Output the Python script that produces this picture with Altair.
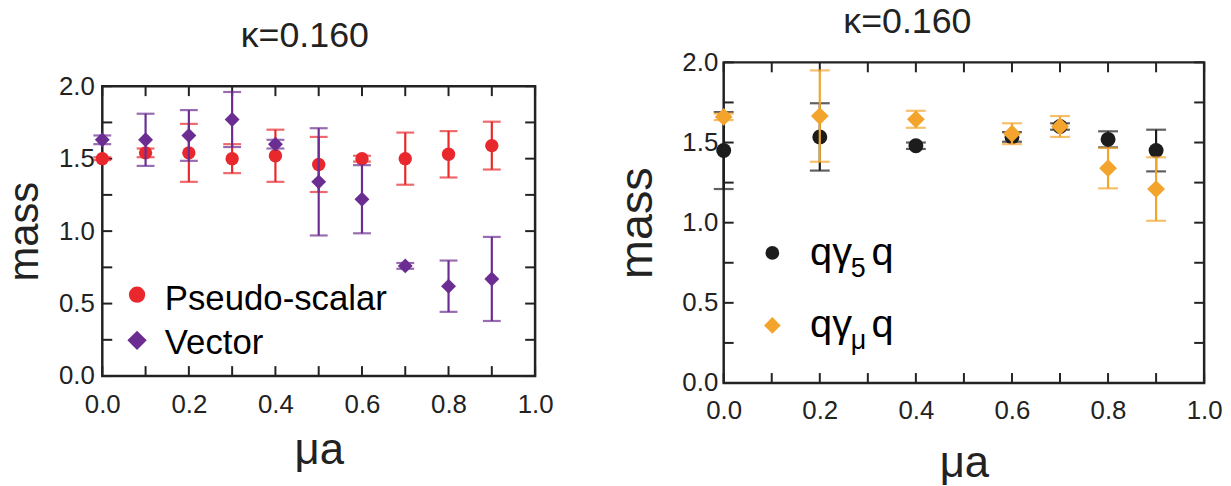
import altair as alt
import pandas as pd

# ---------------- data ----------------
mu_left = [0.0, 0.1, 0.2, 0.3, 0.4, 0.5, 0.6, 0.7, 0.8, 0.9]
ps_mass = [1.50, 1.54, 1.54, 1.50, 1.52, 1.46, 1.50, 1.50, 1.53, 1.59]
ps_err = [0.01, 0.03, 0.20, 0.10, 0.18, 0.19, 0.02, 0.18, 0.16, 0.165]
vec_mass = [1.63, 1.63, 1.66, 1.77, 1.60, 1.34, 1.22, 0.76, 0.62, 0.67]
vec_err = [0.03, 0.18, 0.175, 0.19, 0.03, 0.37, 0.235, 0.02, 0.177, 0.29]

mu_right = [0.0, 0.2, 0.4, 0.6, 0.7, 0.8, 0.9]
g5_mass = [1.45, 1.535, 1.48, 1.535, 1.60, 1.52, 1.45]
g5_err = [0.24, 0.21, 0.02, 0.03, 0.02, 0.05, 0.13]
gmu_mass = [1.66, 1.665, 1.645, 1.555, 1.60, 1.34, 1.21]
gmu_err = [0.02, 0.285, 0.053, 0.065, 0.065, 0.126, 0.198]

x_ticks = [0.0, 0.1, 0.2, 0.3, 0.4, 0.5, 0.6, 0.7, 0.8, 0.9, 1.0]
y_ticks = [0.0, 0.25, 0.5, 0.75, 1.0, 1.25, 1.5, 1.75, 2.0]
x_labels = [0.0, 0.2, 0.4, 0.6, 0.8, 1.0]
y_labels = [0.0, 0.5, 1.0, 1.5, 2.0]
x_domain = [0.0, 1.0]
y_domain = [0.0, 2.0]

title_text = "κ=0.160"
x_title = "μa"
y_title = "mass"

RED = "#e8282c"
PURPLE = "#6b2d91"
BLACK = "#1c1c1c"
ORANGE = "#f3a42d"
INK = "#222222"
FONT = "Liberation Sans"

one = alt.Chart(pd.DataFrame({"k": [0]}))


def sym(x, y, shape, size, color):
    return one.mark_point(filled=True, shape=shape, size=size, opacity=1,
                          color=color).encode(x=alt.value(x), y=alt.value(y))


def txt(x, y, s, size, align="left", color="black"):
    return one.mark_text(text=s, fontSize=size, font=FONT, color=color,
                         align=align, baseline="alphabetic").encode(
        x=alt.value(x), y=alt.value(y))


def series_df(mu, m, e):
    return pd.DataFrame({"mu": mu, "m": m,
                         "lo": [a - b for a, b in zip(m, e)],
                         "hi": [a + b for a, b in zip(m, e)]})


def panel(series, W, H, top, ytitle_size, xlab_pad, ylab_pad, ytitle_pad,
          xtitle_pad, cap, extra_layers):
    # top: pixel offset of the plot frame inside the view (to stagger panels)
    xs = alt.Scale(domain=x_domain, nice=False, zero=False, padding=0)
    ys = alt.Scale(domain=y_domain, nice=False, zero=False, padding=0,
                   range=[H, top])
    xaxis = alt.Axis(values=x_labels, format=".1f", title=x_title,
                     labelPadding=xlab_pad, titlePadding=xtitle_pad,
                     titleFontSize=44, labelFontSize=26, labelFlush=False)
    yaxis = alt.Axis(values=y_labels, format=".1f", title=y_title,
                     labelPadding=ylab_pad, titlePadding=ytitle_pad,
                     titleFontSize=ytitle_size, labelFontSize=26,
                     labelFlush=False)

    def X(f="mu"):
        return alt.X(f"{f}:Q", scale=xs, axis=xaxis, title=x_title)

    def Y(f):
        return alt.Y(f"{f}:Q", scale=ys, axis=yaxis, title=y_title)

    layers = []
    frame = alt.Chart(pd.DataFrame({"x0": [x_domain[0]], "x1": [x_domain[1]],
                                    "y0": [y_domain[0]], "y1": [y_domain[1]]}))
    layers.append(frame.mark_rect(fillOpacity=0, stroke=INK,
                                  strokeWidth=2.5).encode(
        x=X("x0"), x2=alt.X2("x1"), y=Y("y0"), y2=alt.Y2("y1")))
    # inward ticks on all four sides
    xt = alt.Chart(pd.DataFrame({"mu": x_ticks}))
    yt = alt.Chart(pd.DataFrame({"m": y_ticks}))
    tl = 10
    layers.append(xt.mark_rule(color=INK, strokeWidth=2).encode(
        x=X(), y=alt.value(H), y2=alt.value(H - tl)))
    layers.append(xt.mark_rule(color=INK, strokeWidth=2).encode(
        x=X(), y=alt.value(top), y2=alt.value(top + tl)))
    layers.append(yt.mark_rule(color=INK, strokeWidth=2).encode(
        y=Y("m"), x=alt.value(0), x2=alt.value(tl)))
    layers.append(yt.mark_rule(color=INK, strokeWidth=2).encode(
        y=Y("m"), x=alt.value(W), x2=alt.value(W - tl)))

    for df, color, shape, size in series:
        c = alt.Chart(df)
        layers.append(c.mark_rule(color=color, strokeWidth=2.2).encode(
            x=X(), y=Y("lo"), y2=alt.Y2("hi")))
        layers.append(c.mark_tick(color=color, orient="horizontal", size=cap,
                                  thickness=2.2).encode(x=X(), y=Y("lo")))
        layers.append(c.mark_tick(color=color, orient="horizontal", size=cap,
                                  thickness=2.2).encode(x=X(), y=Y("hi")))
        layers.append(c.mark_point(filled=True, shape=shape, size=size,
                                   opacity=1, color=color).encode(
            x=X(), y=Y("m")))

    layers.extend(extra_layers)
    return alt.layer(*layers).properties(width=W, height=H)


LT = 24  # left frame starts 24 px below the right one
left_series = [
    (series_df(mu_left, ps_mass, ps_err), RED, "circle", 182),
    (series_df(mu_left, vec_mass, vec_err), PURPLE, "diamond", 225),
]
left_extra = [
    sym(35, LT + 210, "circle", 270, RED),
    sym(35, LT + 256, "diamond", 380, PURPLE),
    txt(63, LT + 225, "Pseudo-scalar", 35),
    txt(63, LT + 270, "Vector", 35),
    txt(204, LT - 39, title_text, 36, align="center", color=INK),
]
right_series = [
    (series_df(mu_right, g5_mass, g5_err), BLACK, "circle", 225),
    (series_df(mu_right, gmu_mass, gmu_err), ORANGE, "diamond", 320),
]
right_extra = [
    sym(49, 192, "circle", 190, BLACK),
    sym(49, 265, "diamond", 280, ORANGE),
    txt(87, 204, "qγ", 40), txt(128, 216, "5", 27), txt(149, 204, "q", 40),
    txt(87, 277, "qγ", 40), txt(128, 289, "μ", 27), txt(149, 277, "q", 40),
    txt(185, -30, title_text, 36, align="center", color=INK),
]

left = panel(left_series, 436, 292 + LT, LT, 42, 16, 8, 12, 11, 18,
             left_extra)
right = panel(right_series, 484, 323, 0, 47, 15, 6, 21, 18, 20, right_extra)

chart = alt.hconcat(left, right, spacing=59).properties(
    padding={"left": -5, "top": -6, "right": 0, "bottom": 0}
).configure_view(stroke=None).configure_axis(
    labelFont=FONT, labelFontSize=26, labelColor=INK, titleFont=FONT,
    titleFontWeight="normal", titleColor=INK, ticks=False, tickSize=0,
    domain=False, grid=False
)

chart.save("out.html", embed_options={"renderer": "svg", "actions": False})
